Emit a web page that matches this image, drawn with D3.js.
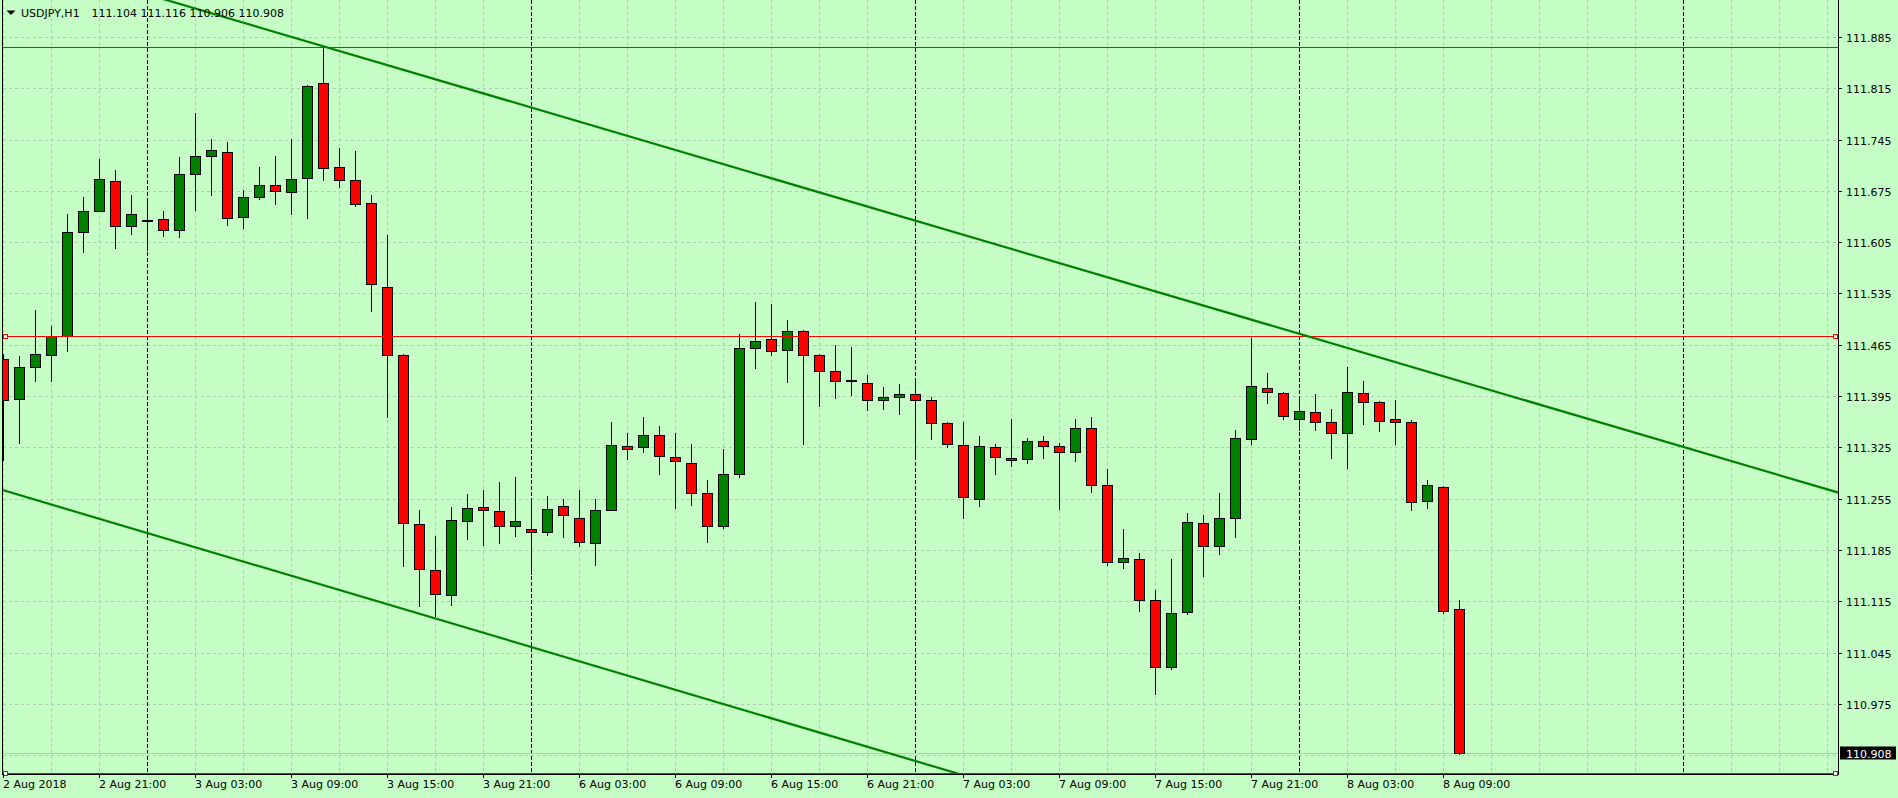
<!DOCTYPE html>
<html><head><meta charset="utf-8">
<script src="https://cdnjs.cloudflare.com/ajax/libs/d3/7.8.5/d3.min.js"></script>
<style>
html,body{margin:0;padding:0;background:#c6ffc6;overflow:hidden}
svg{display:block}
text{font-family:"DejaVu Sans",sans-serif;font-size:11px}
</style></head><body>
<svg id="chart" width="1898" height="798"></svg>
<script>
// ---------- data ----------
const symbolTitle = "USDJPY,H1";
const titleQuote = "111.104 111.116 110.906 110.908";
// hourly sessions: [day, first hour, last hour]
const sessions = [["2 Aug",15,23],["3 Aug",0,23],["6 Aug",0,23],["7 Aug",0,23],["8 Aug",0,10]];

const open = [
111.445,111.391,111.435,111.451,111.477,111.619,111.648,111.689,111.627,111.635,
111.637,111.621,111.698,111.722,111.728,111.640,111.666,111.683,111.674,111.693,
111.822,111.708,111.690,111.659,111.544,111.451,111.220,111.158,111.124,111.225,
111.244,111.238,111.217,111.214,111.209,111.245,111.229,111.195,111.240,111.327,
111.326,111.342,111.312,111.304,111.263,111.217,111.289,111.460,111.473,111.458,
111.484,111.451,111.429,111.417,111.413,111.390,111.394,111.398,111.390,111.358,
111.328,111.255,111.326,111.311,111.309,111.334,111.327,111.318,111.352,111.274,
111.169,111.173,111.117,111.025,111.100,111.222,111.190,111.228,111.337,111.406,
111.399,111.364,111.373,111.360,111.345,111.399,111.387,111.363,111.360,111.252,
111.271,111.104];
const high = [
111.452,111.449,111.513,111.491,111.644,111.666,111.718,111.703,111.669,111.665,
111.647,111.721,111.781,111.746,111.742,111.676,111.707,111.723,111.746,111.820,
111.872,111.733,111.729,111.669,111.615,111.452,111.240,111.204,111.244,111.261,
111.267,111.278,111.284,111.255,111.259,111.255,111.267,111.255,111.359,111.345,
111.367,111.354,111.344,111.330,111.280,111.323,111.479,111.523,111.520,111.499,
111.485,111.452,111.465,111.462,111.424,111.408,111.412,111.418,111.394,111.359,
111.360,111.340,111.330,111.364,111.338,111.341,111.331,111.364,111.366,111.296,
111.214,111.181,111.130,111.173,111.236,111.233,111.263,111.348,111.474,111.427,
111.401,111.393,111.398,111.378,111.434,111.416,111.388,111.390,111.362,111.280,
111.272,111.116];
const low = [
111.308,111.331,111.415,111.415,111.456,111.591,111.647,111.597,111.616,111.594,
111.613,111.612,111.649,111.670,111.628,111.625,111.664,111.657,111.643,111.638,
111.690,111.680,111.655,111.511,111.366,111.163,111.108,111.095,111.110,111.200,
111.192,111.194,111.204,111.152,111.206,111.203,111.190,111.165,111.239,111.309,
111.319,111.288,111.242,111.246,111.196,111.215,111.284,111.433,111.451,111.414,
111.330,111.382,111.393,111.397,111.376,111.378,111.370,111.315,111.337,111.325,
111.228,111.245,111.288,111.299,111.303,111.310,111.241,111.307,111.264,111.164,
111.160,111.101,110.988,111.022,111.098,111.150,111.179,111.202,111.329,111.385,
111.363,111.348,111.348,111.310,111.297,111.357,111.347,111.329,111.239,111.242,
111.099,110.906];
const close = [
111.389,111.434,111.453,111.477,111.619,111.648,111.691,111.627,111.644,111.635,
111.622,111.698,111.722,111.731,111.638,111.666,111.683,111.675,111.691,111.818,
111.706,111.690,111.657,111.548,111.451,111.222,111.159,111.125,111.226,111.242,
111.240,111.218,111.225,111.210,111.241,111.233,111.196,111.240,111.328,111.323,
111.342,111.313,111.306,111.263,111.217,111.289,111.461,111.470,111.457,111.484,
111.451,111.429,111.416,111.417,111.390,111.394,111.398,111.390,111.358,111.330,
111.257,111.327,111.312,111.308,111.334,111.327,111.318,111.352,111.274,111.169,
111.174,111.116,111.025,111.099,111.223,111.191,111.229,111.338,111.409,111.401,
111.368,111.375,111.360,111.345,111.401,111.387,111.361,111.360,111.251,111.273,
111.101,110.908];

const yTicks = [111.885,111.815,111.745,111.675,111.605,111.535,111.465,111.395,
                111.325,111.255,111.185,111.115,111.045,110.975,110.905];
const xTickBars = [0,6,12,18,24,30,36,42,48,54,60,66,72,78,84,90];
const xTickLabels = ["2 Aug 2018","2 Aug 21:00","3 Aug 03:00","3 Aug 09:00","3 Aug 15:00",
  "3 Aug 21:00","6 Aug 03:00","6 Aug 09:00","6 Aug 15:00","6 Aug 21:00","7 Aug 03:00",
  "7 Aug 09:00","7 Aug 15:00","7 Aug 21:00","8 Aug 03:00","8 Aug 09:00"];
const daySeparatorBars = [9,33,57,81,105];
const horizontalLines = [111.872,111.477,110.881];
const selectedLines = [111.477,110.881];
const upperTrend = [[20,111.873],[80,111.487]];
const lowerTrend = [[0,111.267],[27,111.092]];
const bidPrice = 110.908;

// ---------- drawing ----------
const W = 1898, H = 798;
const BG = "#c6ffc6", GRID = "#c3bcc3";
const svg = d3.select("#chart");
svg.append("rect").attr("width",W).attr("height",H).attr("fill",BG);

const x = d3.scaleLinear().domain([0,114]).range([3.5, 3.5 + 16*114]);
const y = d3.scaleLinear().domain([111.885,110.975]).range([37.5,704.3]);
const py = p => Math.floor(y(p)) + 0.5;
const plotL = 3, plotR = 1838, plotB = 774;

svg.append("defs").append("clipPath").attr("id","clip")
  .append("rect").attr("x",plotL).attr("y",0).attr("width",plotR-plotL).attr("height",plotB);
const g = svg.append("g").attr("clip-path","url(#clip)");

// horizontal grid
g.append("g").selectAll("line").data(yTicks).join("line")
  .attr("x1",plotL).attr("x2",plotR).attr("y1",py).attr("y2",py)
  .attr("stroke",GRID).attr("stroke-dasharray","3,3");
// vertical grid (every 3 bars)
const vgrid = d3.range(0,115,3).filter(b => !daySeparatorBars.includes(b));
g.append("g").selectAll("line").data(vgrid).join("line")
  .attr("x1",d=>x(d)).attr("x2",d=>x(d)).attr("y1",0).attr("y2",plotB)
  .attr("stroke",GRID).attr("stroke-dasharray","3,3");
// day separators
g.append("g").selectAll("line").data(daySeparatorBars).join("line")
  .attr("x1",d=>x(d)).attr("x2",d=>x(d)).attr("y1",0).attr("y2",plotB)
  .attr("stroke","#000").attr("stroke-dasharray","4,2");

// bid line
g.append("line").attr("x1",plotL).attr("x2",plotR)
  .attr("y1",py(bidPrice)).attr("y2",py(bidPrice)).attr("stroke","#c0c0c0");

// candles
const bars = open.map((o,i)=>({i, o, h:high[i], l:low[i], c:close[i]}));
const cg = g.append("g");
bars.forEach(d=>{
  const cx = x(d.i);
  cg.append("line").attr("x1",cx).attr("x2",cx)
    .attr("y1",Math.floor(y(d.h))).attr("y2",Math.floor(y(d.l))+1)
    .attr("stroke","#000").attr("stroke-width",1);
  const top = py(Math.max(d.o,d.c)), bot = py(Math.min(d.o,d.c));
  cg.append("rect").attr("x",cx-5).attr("y",top)
    .attr("width",10).attr("height",Math.max(1,bot-top))
    .attr("fill", d.c > d.o ? "#008000" : (d.c < d.o ? "#ff0000" : "none"))
    .attr("stroke","#000").attr("stroke-width",1);
});

// horizontal red lines
g.append("g").selectAll("line").data(horizontalLines).join("line")
  .attr("x1",plotL).attr("x2",plotR).attr("y1",py).attr("y2",py)
  .attr("stroke","#ff0000").attr("stroke-width",1);

// trend lines
function extend(pts){
  const [a,b] = pts; const s = (b[1]-a[1])/(b[0]-a[0]);
  return [-2,118].map(t => [t, a[1] + s*(t-a[0])]);
}
[upperTrend, lowerTrend].forEach(t=>{
  const e = extend(t);
  g.append("line").attr("x1",x(e[0][0])).attr("y1",y(e[0][1]))
    .attr("x2",x(e[1][0])).attr("y2",y(e[1][1]))
    .attr("stroke","#008000").attr("stroke-width",2.2);
});

// frame
svg.append("line").attr("x1",2.5).attr("x2",2.5).attr("y1",0).attr("y2",plotB+1).attr("stroke","#000");
svg.append("line").attr("x1",plotR+0.5).attr("x2",plotR+0.5).attr("y1",0).attr("y2",plotB+1).attr("stroke","#000");
svg.append("line").attr("x1",2).attr("x2",plotR+1).attr("y1",plotB+0.5).attr("y2",plotB+0.5).attr("stroke","#000");

// selection handles
selectedLines.forEach(p=>{
  [3.5, 1833.5].forEach(hx=>{
    svg.append("rect").attr("x",hx).attr("y",py(p)-2).attr("width",4).attr("height",4)
      .attr("fill","#fff").attr("stroke","#ff0000");
  });
});

// y axis ticks + labels
const yVisible = yTicks.filter(v => Math.abs(y(v) - y(bidPrice)) > 10);
svg.append("g").selectAll("line").data(yVisible).join("line")
  .attr("x1",plotR+1).attr("x2",plotR+4).attr("y1",py).attr("y2",py).attr("stroke","#000");
svg.append("g").selectAll("text").data(yVisible).join("text")
  .attr("x",1846).attr("y",v=>py(v)+4).attr("fill","#000").text(v=>d3.format(".3f")(v));

// bid label
svg.append("rect").attr("x",1840).attr("y",Math.round(y(bidPrice))-6.5).attr("width",56).attr("height",13).attr("fill","#000");
svg.append("text").attr("x",1846).attr("y",py(bidPrice)+4).attr("fill","#fff").text(d3.format(".3f")(bidPrice));

// x axis ticks + labels
svg.append("g").selectAll("line").data(xTickBars).join("line")
  .attr("x1",d=>x(d)).attr("x2",d=>x(d)).attr("y1",plotB).attr("y2",plotB+4).attr("stroke","#000");
svg.append("g").selectAll("text").data(xTickBars).join("text")
  .attr("x",d=>x(d)-0.5).attr("y",788).attr("fill","#000").text((d,i)=>xTickLabels[i]);

// title
svg.append("path").attr("d","M6.5,10.5 L15.5,10.5 L11,15 Z").attr("fill","#000");
svg.append("text").attr("x",21).attr("y",17).attr("fill","#000").text(symbolTitle);
svg.append("text").attr("x",91.5).attr("y",17).attr("fill","#000").text(titleQuote);
</script>
</body></html>
